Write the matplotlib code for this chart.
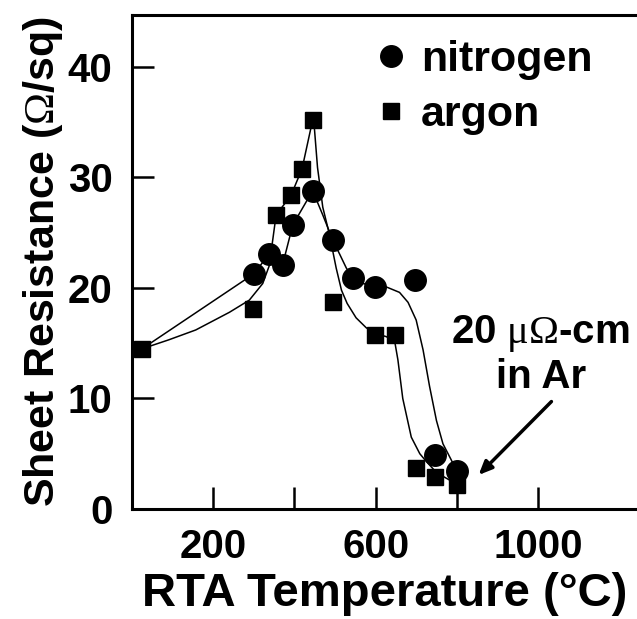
import numpy as np
import matplotlib.pyplot as plt
from matplotlib.lines import Line2D

# measured points
argon_T = [25, 297, 355, 392, 419, 445, 495, 598, 649, 700, 747, 800]
argon_R = [14.5, 18.1, 26.6, 28.4, 30.8, 35.2, 18.7, 15.7, 15.7, 3.7, 2.9, 2.2]
nitrogen_T = [301, 338, 371, 396, 445, 495, 544, 598, 696, 747, 800]
nitrogen_R = [21.3, 23.1, 22.1, 25.7, 28.8, 24.3, 20.9, 20.1, 20.7, 4.9, 3.4]

# hand-drawn guide curves
argon_fit_T = [25, 90, 157, 240, 289, 322, 338, 355, 392, 419, 445, 449, 457, 470,
               486, 503, 516, 530, 552, 577, 598, 626, 647, 655, 667, 688, 709, 725,
               750, 783, 800]
argon_fit_R = [14.5, 15.3, 16.2, 17.8, 18.9, 20.4, 22.0, 26.6, 28.4, 30.8, 35.2, 34.6,
               30.9, 27.3, 24.9, 21.8, 19.8, 18.6, 17.3, 16.4, 15.9, 15.6, 15.2, 13.5,
               10.0, 6.5, 5.0, 4.3, 3.3, 2.6, 2.3]
nitrogen_fit_T = [25, 301, 338, 371, 396, 445, 470, 495, 511, 528, 544, 570, 598, 626,
                  659, 680, 700, 717, 733, 750, 766, 787, 800]
nitrogen_fit_R = [14.5, 21.3, 23.1, 22.1, 25.7, 28.8, 26.6, 24.3, 23.1, 21.8, 20.9, 20.4,
                  20.1, 20.1, 19.6, 18.7, 17.1, 14.4, 11.1, 8.0, 5.9, 4.4, 3.4]

x_major = [200, 600, 1000]
x_minor = [400, 800]
y_ticks = [0, 10, 20, 30, 40]

plt.rcParams['font.family'] = ['Liberation Sans', 'DejaVu Sans']
plt.rcParams['font.weight'] = 'bold'
plt.rcParams['mathtext.fontset'] = 'custom'
plt.rcParams['mathtext.rm'] = 'Liberation Serif:weight=normal'

fig = plt.figure(figsize=(6.37, 6.19), dpi=100)
ax = fig.add_axes([132 / 637, 1 - 509 / 619, 1 - 132 / 637, (509 - 15) / 619])

ax.plot(argon_fit_T, argon_fit_R, color='black', lw=1.1, zorder=2)
ax.plot(nitrogen_fit_T, nitrogen_fit_R, color='black', lw=1.1, zorder=2)
ax.plot(argon_T, argon_R, 's', color='black', ms=11, zorder=3)
ax.plot(nitrogen_T, nitrogen_R, 'o', color='black', ms=15.5, zorder=4)

ax.set_xlim(0, 1244)
ax.set_ylim(0, 44.7)

ax.set_xticks(x_major)
ax.set_xticks(x_minor, minor=True)
ax.set_yticks(y_ticks)
ax.tick_params(axis='both', which='both', direction='in', length=16, width=1.8)
ax.tick_params(axis='x', which='major', labelsize=29, pad=14)
ax.tick_params(axis='y', labelsize=29, pad=14)
ax.tick_params(top=False, right=False)

for s in ['left', 'bottom', 'top']:
    ax.spines[s].set_linewidth(2.2)
ax.spines['right'].set_visible(False)

ax.set_xlabel('RTA Temperature (°C)', fontsize=34, fontweight='bold', labelpad=4)
ax.set_ylabel(r'Sheet Resistance ($\mathrm{\Omega}$/sq)', fontsize=31, fontweight='bold',
              labelpad=2)

handles = [Line2D([], [], ls='', marker='o', color='black', ms=15.5),
           Line2D([], [], ls='', marker='s', color='black', ms=11)]
ax.legend(handles, ['nitrogen', 'argon'], loc='upper left', bbox_to_anchor=(0.44, 0.985),
          frameon=False, fontsize=31, handletextpad=0.25, handlelength=0.9,
          labelspacing=0.35, borderaxespad=0)

ax.text(1007, 14.0, '20 $\\mathrm{\\mu\\Omega}$-cm\nin Ar', ha='center', va='center',
        fontsize=29, linespacing=1.15)
ax.annotate('', xy=(849, 2.9), xytext=(1038, 9.9),
            arrowprops=dict(arrowstyle='-|>,head_length=0.8,head_width=0.35',
                            color='black', lw=2.5))

fig.savefig('out.png', dpi=100)
